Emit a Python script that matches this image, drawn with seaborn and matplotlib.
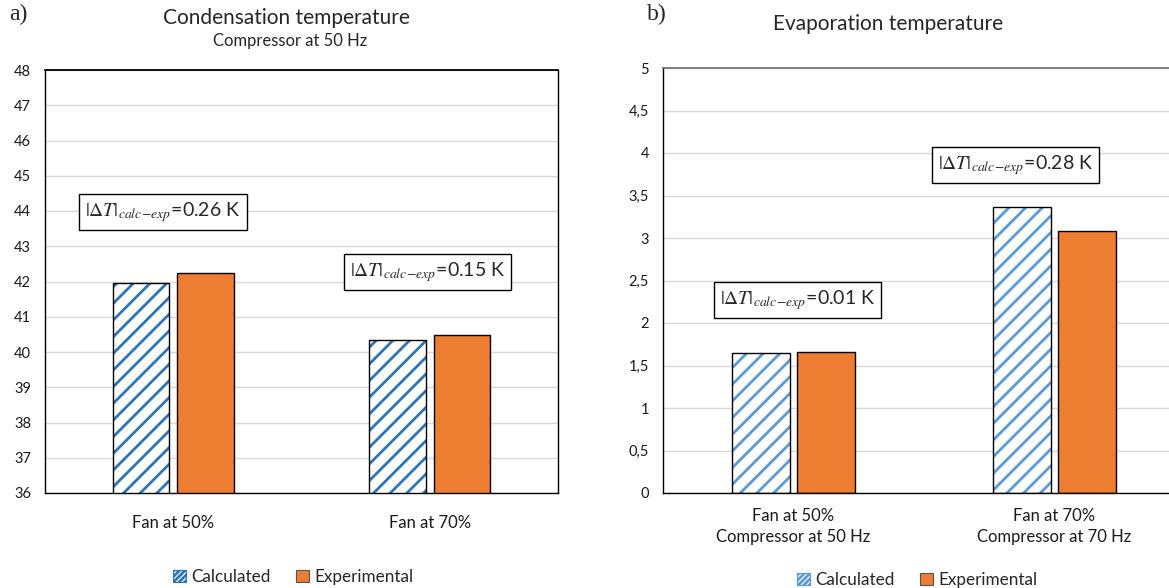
import matplotlib
matplotlib.use("Agg")
import matplotlib.pyplot as plt
from matplotlib.patches import Patch
from matplotlib.colors import to_rgba
import seaborn as sns
import pandas as pd

# ---- data ----
series = ["Calculated", "Experimental"]
cond_categories = ["Fan at 50%", "Fan at 70%"]
cond_calculated = [41.97, 40.33]
cond_experimental = [42.23, 40.48]
cond_diffs = ["0.26", "0.15"]
cond_yticks = list(range(36, 49))

evap_categories = ["Fan at 50%\nCompressor at 50 Hz", "Fan at 70%\nCompressor at 70 Hz"]
evap_calculated = [1.65, 3.36]
evap_experimental = [1.66, 3.08]
evap_diffs = ["0.01", "0.28"]
evap_yticks = [0, 0.5, 1, 1.5, 2, 2.5, 3, 3.5, 4, 4.5, 5]
evap_yticklabels = ["0", "0,5", "1", "1,5", "2", "2,5", "3", "3,5", "4", "4,5", "5"]

sns.set_theme(style="white")
plt.rcParams["font.family"] = ["Lato", "DejaVu Sans"]
plt.rcParams["mathtext.fontset"] = "stix"
plt.rcParams["hatch.linewidth"] = 2.0

ORANGE = "#ED7D31"
BLUE_L = "#2E75B6"
BLUE_R = "#5B9BD5"

fig = plt.figure(figsize=(11.69, 5.88), dpi=100)
W, H = 1169, 588


def axes_px(x0, y_top, x1, y_bot):
    return fig.add_axes([x0 / W, 1 - y_bot / H, (x1 - x0) / W, (y_bot - y_top) / H])


def make_df(cats, calc, exp):
    rows = []
    for c, v in zip(cats, calc):
        rows.append({"cat": c, "series": series[0], "val": v})
    for c, v in zip(cats, exp):
        rows.append({"cat": c, "series": series[1], "val": v})
    return pd.DataFrame(rows)


def draw(ax, df, cats, hatch_color, ylim, yticks, yticklabels, frame_top, pad):
    sns.barplot(data=df, x="cat", y="val", hue="series", order=cats,
                hue_order=series, palette={series[0]: "white", series[1]: ORANGE},
                width=0.5, gap=0.12, ax=ax, legend=False, linewidth=1.0,
                edgecolor="black", saturation=1)
    for p in ax.containers[0].patches:
        p.set_hatch("//")
        p.set_edgecolor(hatch_color)  # sets hatch colour
        p._edgecolor = to_rgba("black")  # keep a black outline
    ax.set_ylim(*ylim)
    ax.set_yticks(yticks)
    ax.set_yticklabels(yticklabels)
    ax.set_xlabel("")
    ax.set_ylabel("")
    ax.yaxis.grid(True, color="#D9D9D9", linewidth=1.0)
    ax.set_axisbelow(True)
    ax.tick_params(axis="both", length=0, labelcolor="#1a1a1a")
    ax.tick_params(axis="y", labelsize=10.5, pad=10)
    ax.tick_params(axis="x", labelsize=12, pad=pad)
    for lab in ax.get_xticklabels():
        lab.set_linespacing(1.4)
    for s in ["left", "bottom", "right"]:
        ax.spines[s].set_color("black")
        ax.spines[s].set_linewidth(1.0)
    ax.spines["top"].set_color(frame_top)
    ax.spines["top"].set_linewidth(1.3)


box = dict(boxstyle="square,pad=0.3", facecolor="white", edgecolor="black", linewidth=1.0)
ANN = r"$\left|\Delta T\right|_{calc\!-\!exp}$"

# ---- panel a ----
ax1 = axes_px(45, 70, 558, 493)
draw(ax1, make_df(cond_categories, cond_calculated, cond_experimental), cond_categories,
     BLUE_L, (36, 48), cond_yticks, [str(t) for t in cond_yticks], "black", 16)
for xpos, ypos, d in [(-0.04, 43.97, cond_diffs[0]), (0.993, 42.27, cond_diffs[1])]:
    ax1.text(xpos, ypos, ANN + f"={d} K", ha="center", va="center",
             fontsize=14, bbox=box)

# ---- panel b ----
ax2 = axes_px(663, 68, 1185, 493)
draw(ax2, make_df(evap_categories, evap_calculated, evap_experimental), evap_categories,
     BLUE_R, (0, 5), evap_yticks, evap_yticklabels, "#767676", 11)
ax2.spines["right"].set_visible(False)
for xpos, ypos, d in [(0.015, 2.27, evap_diffs[0]), (0.85, 3.86, evap_diffs[1])]:
    ax2.text(xpos, ypos, ANN + f"={d} K", ha="center", va="center",
             fontsize=14, bbox=box)

# ---- titles ----
fig.text(9 / W, 1 - 14 / H, "a)", family="Liberation Serif", fontsize=17, va="center", ha="left")
fig.text(647 / W, 1 - 14 / H, "b)", family="Liberation Serif", fontsize=17, va="center", ha="left")
fig.text(286 / W, 1 - 18 / H, "Condensation temperature", fontsize=15, va="center", ha="center")
fig.text(290 / W, 1 - 41 / H, "Compressor at 50 Hz", fontsize=12, va="center", ha="center")
fig.text(888 / W, 1 - 24 / H, "Evaporation temperature", fontsize=15, va="center", ha="center")

# ---- legends ----
def handles(hc):
    return [Patch(facecolor="white", edgecolor=hc, hatch="//////", label=series[0]),
            Patch(facecolor=ORANGE, edgecolor="#555555", label=series[1])]


for cx, cy, hc in [(293, 577, BLUE_L), (917, 580, BLUE_R)]:
    leg = fig.legend(handles=handles(hc), loc="center", bbox_to_anchor=(cx / W, 1 - cy / H),
                     ncol=2, frameon=False, fontsize=12.3, handlelength=0.75, handleheight=0.75,
                     handletextpad=0.3, columnspacing=1.5, borderaxespad=0)
    for h in leg.legend_handles:
        h.set_linewidth(0.8)

fig.savefig("out.png", dpi=100)
